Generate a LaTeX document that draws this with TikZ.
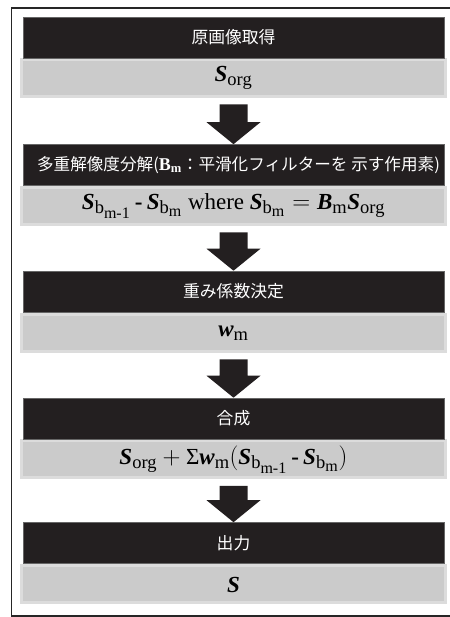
\documentclass[tikz,border=0pt]{standalone}
\usepackage{amsmath}
\usepackage{fontspec}
\setmainfont{Liberation Serif}
\newfontfamily\cjk{Noto Sans CJK JP}
\usetikzlibrary{calc}
\DeclareMathSizes{23}{23}{18.5}{16}
\definecolor{boxblack}{HTML}{231F20}
\definecolor{boxgray}{HTML}{CBCBCB}
\definecolor{grayedge}{HTML}{DCDCDC}
\newcommand\myS{\text{\bfseries\itshape S}}
\newcommand\myB{\text{\bfseries\itshape B}}
\newcommand\myw{\text{\bfseries\itshape w}}
\newcommand\mysub[1]{\text{#1}}
\newcommand\mydash{\mskip3mu\text{\bfseries -}\mskip3mu}
\newcommand\flowarrow[2]{%
  \fill[flowarrowfill] ($(#1.south)+(-14,-6.5)$) -- ($(#1.south)+(14,-6.5)$)
    -- ($(#2.north)+(14,22)$) -- ($(#2.north)+(27,22)$) -- (#2.north)
    -- ($(#2.north)+(-27,22)$) -- ($(#2.north)+(-14,22)$) -- cycle;}
\begin{document}
\begin{tikzpicture}[x=1pt,y=1pt,
  titlebox/.style={fill=boxblack, draw=black!60, line width=0.6pt,
    minimum width=421pt, minimum height=41pt, inner sep=0pt, text=white,
    font=\cjk\fontsize{16.8}{19}\selectfont},
  valbox/.style={fill=boxgray, draw=grayedge, line width=3pt,
    minimum width=424pt, minimum height=37pt, inner sep=0pt,
    font=\fontsize{23}{26}\selectfont},
  flowarrowfill/.style={fill=boxblack}]
\useasboundingbox (0,0) rectangle (449,617);
\draw[line width=1.3pt, black!85] (11.5,1) rectangle (452,609);

\node[valbox] (v1) at (233.5,539) {$\myS_{\mysub{org}}$};
\node[titlebox] (t1) at (233.5,579.5) {原画像取得};

\node[valbox] (v2) at (233.5,411) {$\myS_{\mysub{b}_{\mysub{m-1}}} \mydash \myS_{\mysub{b}_{\mysub{m}}}$ where $\myS_{\mysub{b}_{\mysub{m}}} = \myB_{\mysub{m}}\myS_{\mysub{org}}$};
\node[titlebox] (t2) at (233.5,452) {\makebox[421pt]{\hspace*{10pt}\fontsize{16.6}{19}\selectfont 多重解像度分解({\rmfamily\bfseries\fontsize{18}{19}\selectfont B\textsubscript{m}}：平滑化フィルターを 示す作用素)}};

\node[valbox] (v3) at (233.5,284) {$\myw_{\mysub{m}}$};
\node[titlebox] (t3) at (233.5,325.5) {重み係数決定};

\node[valbox] (v4) at (233.5,157.5) {$\myS_{\mysub{org}} + \text{Σ}\myw_{\mysub{m}}(\myS_{\mysub{b}_{\mysub{m-1}}} \mydash \myS_{\mysub{b}_{\mysub{m}}})$};
\node[titlebox] (t4) at (233.5,198.5) {合成};

\node[valbox] (v5) at (233.5,32.5) {$\myS$};
\node[titlebox] (t5) at (233.5,74) {出力};

\flowarrow{v1}{t2}
\flowarrow{v2}{t3}
\flowarrow{v3}{t4}
\flowarrow{v4}{t5}
\end{tikzpicture}
\end{document}
